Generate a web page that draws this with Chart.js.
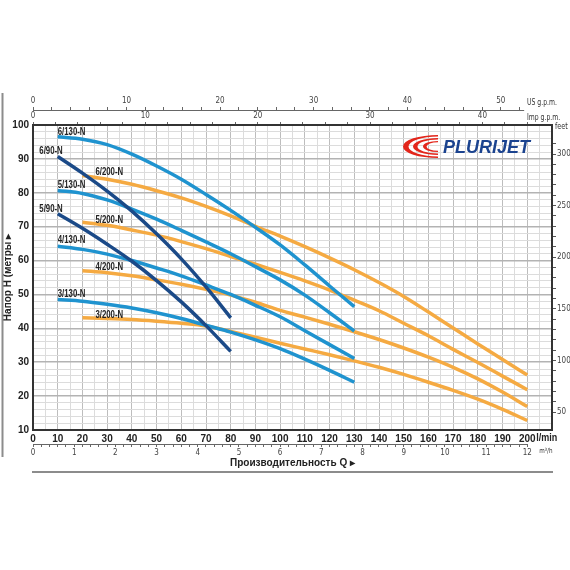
<!DOCTYPE html>
<html>
<head>
<meta charset="utf-8">
<script src="https://cdn.jsdelivr.net/npm/chart.js@4"></script>
<style>
  html, body { margin: 0; padding: 0; background: #fff; }
  canvas { display: block; }
</style>
</head>
<body>
<canvas id="chart" width="570" height="570"></canvas>
<script>
'use strict'
const ctx = document.getElementById('chart').getContext('2d')

// flow, l/min
const flow90 = [10, 20, 30, 40, 50, 60, 70, 80]
const flow130 = [10, 20, 30, 40, 50, 60, 70, 80, 90, 100, 110, 120, 130]
const flow200 = [20, 30, 40, 50, 60, 70, 80, 90, 100, 110, 120, 130, 140, 150, 160, 170, 180, 190, 200]

// head, metres
const head6_90 = [90.7, 85.8, 80.5, 74.6, 67.9, 60.5, 52.2, 43.1]
const head5_90 = [73.8, 69.5, 64.8, 59.8, 54.1, 47.8, 40.8, 33.2]
const head6_130 = [96.5, 95.8, 94.2, 91.4, 87.9, 84.0, 79.5, 74.8, 69.8, 64.6, 58.7, 52.5, 46.4]
const head5_130 = [80.7, 79.8, 77.9, 75.2, 72.2, 68.9, 65.5, 62.0, 58.2, 54.3, 49.8, 44.6, 39.2]
const head4_130 = [64.2, 63.3, 61.9, 60.0, 57.8, 55.5, 52.8, 50.0, 46.8, 43.4, 39.3, 35.2, 31.1]
const head3_130 = [48.5, 48.0, 47.1, 46.0, 44.6, 42.9, 40.9, 38.9, 36.6, 34.0, 30.9, 27.6, 24.1]
const head6_200 = [85.1, 84.0, 82.5, 80.6, 78.5, 76.0, 73.2, 70.1, 67.2, 64.1, 60.8, 57.3, 53.5, 49.4, 44.8, 40.1, 35.4, 30.8, 26.2]
const head5_200 = [71.3, 70.4, 69.0, 67.5, 65.6, 63.5, 61.2, 58.9, 56.5, 54.0, 51.3, 48.3, 45.2, 41.5, 37.8, 33.8, 29.9, 25.9, 21.9]
const head4_200 = [57.0, 56.4, 55.5, 54.3, 53.0, 51.5, 49.8, 47.7, 45.3, 43.3, 41.2, 39.0, 36.7, 34.2, 31.5, 28.5, 25.1, 21.2, 16.9]
const head3_200 = [43.1, 42.9, 42.6, 42.1, 41.5, 40.7, 39.1, 37.4, 35.6, 33.9, 32.2, 30.4, 28.5, 26.4, 24.1, 21.7, 19.1, 16.1, 12.8]

const FT = 3.28084
const US_GAL = 3.78541
const IMP_GAL = 4.54609

const BLUE = '#1f93cf'
const NAVY = '#1b4a88'
const ORANGE = '#f5aa42'

const cond = '"DejaVu Sans Condensed", sans-serif'
const sans = '"Liberation Sans", Arial, sans-serif'

function pts(flow, head) {
  return flow.map((q, i) => ({ x: q, y: head[i] }))
}

function curve(label, flow, head, color, order, tagAlign, tagDx, tagDy) {
  return {
    label: label,
    data: pts(flow, head),
    borderColor: color,
    backgroundColor: color,
    borderWidth: 3.5,
    pointRadius: 0,
    cubicInterpolationMode: 'monotone',
    order: order,
    tagAlign: tagAlign,
    tagDx: tagDx,
    tagDy: tagDy,
  }
}

const datasets = [
  curve('6/90-N', flow90, head6_90, NAVY, 0, 'right', 5, -5),
  curve('5/90-N', flow90, head5_90, NAVY, 0, 'right', 5, -5),
  curve('6/130-N', flow130, head6_130, BLUE, 1, 'left', 0, -5),
  curve('5/130-N', flow130, head5_130, BLUE, 1, 'left', 0, -5),
  curve('4/130-N', flow130, head4_130, BLUE, 1, 'left', 0, -6),
  curve('3/130-N', flow130, head3_130, BLUE, 1, 'left', 0, -5),
  curve('6/200-N', flow200, head6_200, ORANGE, 2, 'left', 13, -3),
  curve('5/200-N', flow200, head5_200, ORANGE, 2, 'left', 13, -2),
  curve('4/200-N', flow200, head4_200, ORANGE, 2, 'left', 13, -3),
  curve('3/200-N', flow200, head3_200, ORANGE, 2, 'left', 13, -3),
]

const near = (v, step) => Math.abs(v / step - Math.round(v / step)) < 1e-6

const minorGrid = ctx => (near(ctx.tick.value, 10) ? '#bdbdbd' : '#dcdcdc')

const smallTicks = { family: cond, size: 8 }
const mainTicks = { family: sans, size: 10, weight: 'bold' }

// text squeezed horizontally, like the condensed face of the original
function narrowText(c, text, x, y, align, squeeze) {
  c.save()
  c.translate(x, y)
  c.scale(squeeze, 1)
  c.textAlign = align
  c.fillText(text, 0, 0)
  c.restore()
}

const decor = {
  id: 'decor',
  afterDatasetsDraw(chart) {
    const c = chart.ctx
    chart.data.datasets.forEach((ds, i) => {
      const p = chart.getDatasetMeta(i).data[0]
      c.save()
      c.font = 'bold 10px ' + sans
      c.fillStyle = '#222'
      c.textBaseline = 'middle'
      narrowText(c, ds.label, p.x + ds.tagDx, p.y + ds.tagDy, ds.tagAlign, 0.78)
      c.restore()
    })
  },
  afterDraw(chart) {
    const c = chart.ctx
    const area = chart.chartArea
    const s = chart.scales
    c.save()

    // page frame
    c.strokeStyle = '#8c8c8c'
    c.lineWidth = 2
    c.beginPath()
    c.moveTo(2.5, 93)
    c.lineTo(2.5, 457)
    c.moveTo(32, 472)
    c.lineTo(553, 472)
    c.stroke()

    // secondary axis lines
    c.strokeStyle = '#666'
    c.lineWidth = 1
    c.beginPath()
    c.moveTo(s.x2.getPixelForValue(0), s.x2.bottom + 0.5)
    c.lineTo(s.x2.getPixelForValue(52.5), s.x2.bottom + 0.5)
    c.moveTo(s.x4.getPixelForValue(0), s.x4.top + 0.5)
    c.lineTo(s.x4.getPixelForValue(12), s.x4.top + 0.5)
    c.stroke()

    // unit labels
    c.fillStyle = '#333'
    c.font = '8px ' + cond
    c.textBaseline = 'bottom'
    narrowText(c, 'US g.p.m.', area.right - 25, s.x2.bottom - 3, 'left', 0.85)
    narrowText(c, 'Imp g.p.m.', area.right - 25, s.x3.bottom - 3, 'left', 0.85)
    c.textBaseline = 'middle'
    narrowText(c, 'feet', area.right + 3, area.top + 2, 'left', 0.9)
    c.font = '7px ' + cond
    c.textBaseline = 'top'
    narrowText(c, 'm\u00b3/h', s.x.getPixelForValue(200) + 12, s.x4.top + 4, 'left', 0.9)
    c.font = 'bold 10px ' + sans
    c.fillStyle = '#222'
    const half = c.measureText('200').width / 2
    narrowText(c, 'l/min', s.x.getPixelForValue(200) + half + 0.5, area.bottom + 3, 'left', 0.9)

    // logo: three red crescents and the name
    c.fillStyle = '#e3261b'
    const swoosh = [
      [35, 11.5, 29.5, 10],
      [25, 8.5, 20.5, 7],
      [15, 5.5, 11.5, 4.3],
    ]
    const rx0 = 438
    const cy = 146.5
    swoosh.forEach(a => {
      c.beginPath()
      c.ellipse(rx0, cy, a[0], a[1], 0, Math.PI * 0.5, Math.PI * 1.5)
      c.ellipse(rx0, cy, a[2], a[3], 0, Math.PI * 1.5, Math.PI * 0.5, true)
      c.closePath()
      c.fill()
    })
    c.fillStyle = '#1b438f'
    c.font = 'italic bold 18px ' + sans
    c.textBaseline = 'alphabetic'
    c.textAlign = 'left'
    c.fillText('PLURIJET', 443, 153)

    c.restore()
  },
}

const config = {
  type: 'line',
  data: { datasets: datasets },
  options: {
    responsive: false,
    animation: false,
    layout: { padding: { top: 96, bottom: 98, left: 0, right: 0 } },
    plugins: {
      legend: { display: false },
      tooltip: { enabled: false },
    },
    scales: {
      x: {
        type: 'linear',
        position: 'bottom',
        weight: 0,
        min: 0,
        max: 210,
        ticks: {
          stepSize: 5,
          autoSkip: false,
          maxRotation: 0,
          padding: 3,
          color: '#222',
          font: mainTicks,
          callback: v => (near(v, 10) && v <= 200 ? String(v) : ''),
        },
        grid: { drawTicks: false, color: minorGrid, lineWidth: 1 },
        border: { color: '#333', width: 2 },
        afterFit: sc => { sc.height = 14 },
      },
      x4: {
        type: 'linear',
        axis: 'x',
        position: 'bottom',
        weight: 1,
        min: 0,
        max: 210 * 0.06,
        ticks: {
          stepSize: 0.2,
          autoSkip: false,
          maxRotation: 0,
          padding: 1,
          color: '#444',
          font: smallTicks,
          callback: v => (near(v, 1) ? String(Math.round(v)) : ''),
        },
        grid: { drawOnChartArea: false, tickLength: 3, color: '#666' },
        border: { display: false },
        title: {
          display: true,
          text: 'Производительность Q \u25b8',
          color: '#222',
          font: { family: sans, size: 10, weight: 'bold' },
          padding: { top: 0, bottom: 3 },
        },
        afterBuildTicks: sc => { sc.ticks = sc.ticks.filter(t => near(t.value, 0.2) && t.value <= 12.001) },
        afterFit: sc => { sc.height = 28 },
      },
      x3: {
        type: 'linear',
        axis: 'x',
        position: 'top',
        weight: 0,
        min: 0,
        max: 210 / IMP_GAL,
        ticks: {
          stepSize: 2,
          autoSkip: false,
          maxRotation: 0,
          padding: 1,
          color: '#444',
          font: smallTicks,
          callback: v => (near(v, 10) ? String(v) : ''),
        },
        grid: { drawOnChartArea: false, tickLength: 3, color: '#666' },
        border: { color: '#333', width: 2 },
        afterBuildTicks: sc => { sc.ticks = sc.ticks.filter(t => near(t.value, 2) && t.value <= 44) },
        afterFit: sc => { sc.height = 15 },
      },
      x2: {
        type: 'linear',
        axis: 'x',
        position: 'top',
        weight: 1,
        min: 0,
        max: 210 / US_GAL,
        ticks: {
          stepSize: 2,
          autoSkip: false,
          maxRotation: 0,
          padding: 1,
          color: '#444',
          font: smallTicks,
          callback: v => (near(v, 10) ? String(v) : ''),
        },
        grid: { drawOnChartArea: false, tickLength: 3, color: '#666' },
        border: { display: false },
        afterBuildTicks: sc => { sc.ticks = sc.ticks.filter(t => near(t.value, 2) && t.value <= 52) },
        afterFit: sc => { sc.height = 14 },
      },
      y: {
        type: 'linear',
        position: 'left',
        min: 10,
        max: 100,
        ticks: {
          stepSize: 2,
          autoSkip: false,
          padding: 4,
          color: '#222',
          font: mainTicks,
          callback: v => (near(v, 10) ? String(v) : ''),
        },
        grid: {
          drawTicks: false,
          color: ctx => (near(ctx.tick.value, 10) ? '#b3b3b3' : '#dcdcdc'),
          lineWidth: ctx => (near(ctx.tick.value, 10) ? 1.5 : 1),
        },
        border: { color: '#333', width: 2 },
        title: {
          display: true,
          text: 'Напор H (метры \u25b8',
          color: '#222',
          font: { family: sans, size: 10, weight: 'bold' },
          padding: { top: 2, bottom: 0 },
        },
        afterFit: sc => { sc.width = 33 },
      },
      y2: {
        type: 'linear',
        position: 'right',
        min: 10 * FT,
        max: 100 * FT,
        ticks: {
          stepSize: 10,
          autoSkip: false,
          padding: 1,
          color: '#444',
          font: smallTicks,
          callback: v => (near(v, 50) ? String(v) : ''),
        },
        grid: { drawOnChartArea: false, tickLength: 4, color: '#555' },
        border: { color: '#333', width: 2 },
        afterBuildTicks: sc => { sc.ticks = sc.ticks.filter(t => near(t.value, 10)) },
        afterFit: sc => { sc.width = 18 },
      },
    },
  },
  plugins: [decor],
}

const chart = new Chart(ctx, config)
</script>
</body>
</html>
